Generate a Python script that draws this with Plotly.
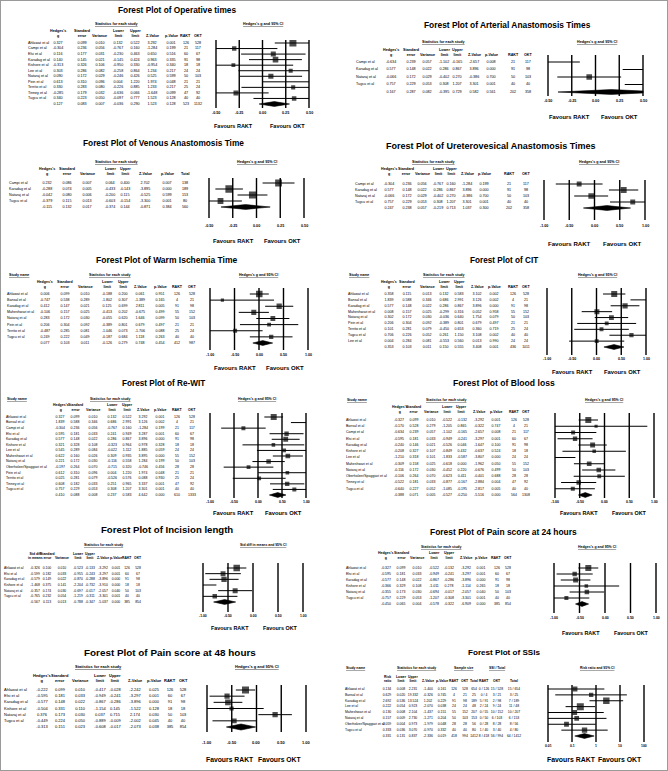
import math
import plotly.graph_objects as go

W, H = 668, 771
FONT = "Liberation Sans, Arial, sans-serif"

# ---------------- tick labels / headers ----------------
TICKS_HALF = [-0.5, -0.25, 0.0, 0.25, 0.5]
TICKS_HALF_LABELS = ["-0.50", "-0.25", "0.00", "0.25", "0.50"]
TICKS_ONE = [-1.0, -0.5, 0.0, 0.5, 1.0]
TICKS_ONE_LABELS = ["-1.00", "-0.50", "0.00", "0.50", "1.00"]
TICKS_LOG = [0.01, 0.1, 1, 10, 100]
TICKS_LOG_LABELS = ["0.01", "0.1", "1", "10", "100"]

HDR_HEDGES = ["Hedges's<br>g", "Standard<br>error", "Variance", "Lower<br>limit", "Upper<br>limit",
              "Z-Value", "p-Value", "RAKT", "OKT"]
HDR_TOTAL = ["Hedges's<br>g", "Standard<br>error", "Variance", "Lower<br>limit", "Upper<br>limit",
             "Z-Value", "p-Value", "Total"]
HDR_SMD = ["Std diff<br>in means", "Standard<br>error", "Variance", "Lower<br>limit", "Upper<br>limit",
           "Z-Value", "p-Value", "RAKT", "OKT"]
HDR_SSI = ["Risk<br>ratio", "Lower<br>limit", "Upper<br>limit", "Z-Value", "p-Value",
           "RAKT", "OKT", "Total", "RAKT", "OKT", "Total"]

# ---------------- DATA (last entry of value lists = pooled summary) ----------------
# 1 Operative times
OP_STUDIES = ["Ahlawat et al", "Campi et al", "Elsi et al", "Karadag et al", "Kishore et al", "Lee et al",
              "Nataraj et al", "Pein et al", "Territo et al", "Tinney et al", "Tugcu et al"]
OP_G = [0.327, -0.304, 0.116, 0.140, -0.313, 0.303, 0.090, 0.613, 0.330, -0.285, 0.340, 0.127]
OP_SE = [0.099, 0.236, 0.177, 0.145, 0.326, 0.286, 0.172, 0.310, 0.283, 0.179, 0.223, 0.083]
OP_VAR = [0.010, 0.056, 0.031, 0.021, 0.106, 0.082, 0.029, 0.096, 0.080, 0.032, 0.050, 0.007]
OP_LO = [0.132, -0.767, -0.230, -0.145, -0.950, -0.258, -0.246, 0.004, -0.226, -0.636, -0.097, -0.036]
OP_HI = [0.522, 0.160, 0.463, 0.424, 0.330, 0.864, 0.426, 1.220, 0.885, 0.066, 0.777, 0.290]
OP_Z = [3.292, -1.284, 0.650, 0.963, -0.954, 1.234, 0.525, 1.974, 1.233, -1.648, 1.523, 1.523]
OP_P = [0.001, 0.199, 0.516, 0.335, 0.340, 0.217, 0.599, 0.048, 0.217, 0.099, 0.128, 0.128]
OP_RAKT = [126, 21, 60, 91, 18, 24, 50, 21, 25, 47, 40, 523]
OP_OKT = [528, 117, 67, 98, 18, 24, 103, 21, 24, 92, 40, 1132]

# 2 Arterial anastomosis times
AR_STUDIES = ["Campi et al", "Karadag et al", "Nataraj et al", "Tugcu et al"]
AR_G = [-0.634, 0.577, -0.066, 0.757, 0.167]
AR_SE = [0.239, 0.148, 0.172, 0.229, 0.287]
AR_VAR = [0.057, 0.022, 0.029, 0.053, 0.082]
AR_LO = [-1.102, 0.286, -0.402, 0.308, -0.395]
AR_HI = [-0.165, 0.867, 0.270, 1.207, 0.729]
AR_Z = [-2.657, 3.896, -0.386, 3.301, 0.582]
AR_P = [0.008, 0.000, 0.700, 0.001, 0.561]
AR_RAKT = [21, 91, 50, 40, 202]
AR_OKT = [117, 98, 103, 40, 358]

# 3 Venous anastomosis time
VE_STUDIES = ["Campi et al", "Karadag et al", "Nataraj et al", "Tugcu et al"]
VE_G = [0.232, -0.288, -0.042, -0.379, -0.115]
VE_SE = [0.086, 0.074, 0.080, 0.115, 0.132]
VE_VAR = [0.007, 0.005, 0.006, 0.013, 0.017]
VE_LO = [0.064, -0.433, -0.200, -0.603, -0.374]
VE_HI = [0.400, -0.143, 0.115, -0.154, 0.144]
VE_Z = [2.702, -3.895, -0.525, -3.300, -0.871]
VE_P = [0.007, 0.000, 0.599, 0.001, 0.384]
VE_TOTAL = [138, 189, 153, 80, 560]

# 4 Ureterovesical anastomosis times
UR_STUDIES = ["Campi et al", "Karadag et al", "Nataraj et al", "Tugcu et al"]
UR_G = [-0.304, 0.577, -0.066, 0.757, 0.247]
UR_SE = [0.236, 0.148, 0.172, 0.229, 0.238]
UR_VAR = [0.056, 0.022, 0.029, 0.053, 0.057]
UR_LO = [-0.767, 0.286, -0.402, 0.308, -0.219]
UR_HI = [0.160, 0.867, 0.270, 1.207, 0.713]
UR_Z = [-1.284, 3.896, -0.386, 3.301, 1.037]
UR_P = [0.199, 0.000, 0.700, 0.001, 0.300]
UR_RAKT = [21, 91, 50, 40, 202]
UR_OKT = [117, 98, 103, 40, 358]

# 5 Warm ischemia time
WI_STUDIES = ["Ahlawat et al", "Bansal et al", "Karadag et al", "Maheshwari et al", "Nataraj et al",
              "Pein et al", "Territo et al", "Tugcu et al"]
WI_G = [0.006, -0.747, 0.412, -0.106, 0.283, 0.206, -0.487, 0.249, 0.077]
WI_SE = [0.099, 0.538, 0.147, 0.157, 0.172, 0.304, 0.285, 0.222, 0.103]
WI_VAR = [0.010, 0.289, 0.021, 0.025, 0.030, 0.092, 0.081, 0.049, 0.011]
WI_LO = [-0.188, -1.802, 0.125, -0.413, -0.055, -0.389, -1.046, -0.187, -0.126]
WI_HI = [0.200, 0.307, 0.699, 0.202, 0.620, 0.801, 0.073, 0.684, 0.279]
WI_Z = [0.061, -1.389, 2.811, -0.675, 1.646, 0.679, -1.706, 1.118, 0.748]
WI_P = [0.951, 0.165, 0.005, 0.499, 0.099, 0.497, 0.088, 0.263, 0.454]
WI_RAKT = [126, 4, 91, 55, 50, 21, 25, 40, 412]
WI_OKT = [528, 21, 98, 152, 103, 21, 24, 40, 987]

# 6 CIT
CT_STUDIES = ["Ahlawat et al", "Bansal et al", "Karadag et al", "Maheshwari et al", "Nataraj et al",
              "Pein et al", "Territo et al", "Tugcu et al", "Lee et al"]
CT_G = [0.358, 1.839, 0.577, 0.008, 0.302, 0.206, 0.101, 0.706, 0.004, 0.353]
CT_SE = [0.115, 0.588, 0.148, 0.157, 0.172, 0.304, 0.281, 0.226, 0.284, 0.103]
CT_VAR = [0.013, 0.346, 0.022, 0.025, 0.030, 0.092, 0.079, 0.052, 0.081, 0.011]
CT_LO = [0.132, 0.686, 0.286, -0.299, -0.036, -0.389, -0.450, 0.261, -0.553, 0.150]
CT_HI = [0.583, 2.991, 0.867, 0.316, 0.640, 0.801, 0.653, 1.150, 0.560, 0.555]
CT_Z = [3.102, 3.126, 3.896, 0.052, 1.754, 0.679, 0.360, 3.108, 0.013, 3.408]
CT_P = [0.002, 0.002, 0.000, 0.958, 0.079, 0.497, 0.719, 0.002, 0.990, 0.001]
CT_RAKT = [126, 4, 91, 55, 50, 21, 25, 40, 24, 436]
CT_OKT = [528, 21, 98, 152, 103, 21, 24, 40, 24, 1011]

# 7 Re-WIT
RW_STUDIES = ["Ahlawat et al", "Bansal et al", "Campi et al", "Elsi et al", "Karadag et al", "Kishore et al",
              "Lee et al", "Maheshwari et al", "Nataraj et al", "Oberholzer/Spaggiari et al", "Pein et al",
              "Territo et al", "Tinney et al", "Tugcu et al"]
RW_G = [0.327, 1.839, -0.304, 0.595, 0.577, 0.321, 0.545, 0.622, 0.221, -0.197, 0.612, 0.025, 0.608, 0.757, 0.410]
RW_SE = [0.099, 0.588, 0.236, 0.181, 0.148, 0.328, 0.289, 0.160, 0.172, 0.264, 0.310, 0.281, 0.182, 0.229, 0.088]
RW_VAR = [0.010, 0.346, 0.056, 0.033, 0.022, 0.108, 0.084, 0.026, 0.030, 0.070, 0.096, 0.079, 0.033, 0.053, 0.008]
RW_LO = [0.132, 0.686, -0.767, 0.241, 0.286, -0.323, -0.022, 0.309, -0.116, -0.715, 0.004, -0.526, 0.251, 0.308, 0.237]
RW_HI = [0.522, 2.991, 0.160, 0.949, 0.867, 0.964, 1.112, 0.935, 0.558, 0.320, 1.220, 0.576, 0.965, 1.207, 0.583]
RW_Z = [3.292, 3.126, -1.284, 3.287, 3.896, 0.978, 1.885, 3.895, 1.284, -0.746, 1.974, 0.088, 3.337, 3.301, 4.642]
RW_P = [0.001, 0.002, 0.199, 0.001, 0.000, 0.328, 0.059, 0.000, 0.199, 0.456, 0.048, 0.930, 0.001, 0.001, 0.000]
RW_RAKT = [126, 4, 21, 60, 91, 18, 24, 55, 50, 28, 21, 25, 47, 40, 610]
RW_OKT = [528, 21, 117, 67, 98, 18, 24, 152, 103, 28, 21, 24, 92, 40, 1333]

# 8 Blood loss
BL_STUDIES = ["Ahlawat et al", "Bansal et al", "Campi et al", "Elsi et al", "Karadag et al", "Kishore et al",
              "Lee et al", "Maheshwari et al", "Nataraj et al", "Oberholzer/Spaggiari et al", "Tinney et al",
              "Tugcu et al"]
BL_G = [-0.327, -0.170, -0.634, -0.595, -0.240, -0.208, -1.210, -0.309, -0.116, -0.106, -0.522, -0.640, -0.388]
BL_SE = [0.099, 0.528, 0.239, 0.181, 0.146, 0.327, 0.318, 0.158, 0.172, 0.264, 0.181, 0.227, 0.071]
BL_VAR = [0.010, 0.279, 0.057, 0.033, 0.021, 0.107, 0.101, 0.025, 0.030, 0.070, 0.033, 0.052, 0.005]
BL_LO = [-0.522, -1.205, -1.102, -0.949, -0.526, -0.849, -1.833, -0.618, -0.452, -0.623, -0.877, -1.085, -0.527]
BL_HI = [-0.132, 0.865, -0.165, -0.241, 0.046, 0.432, -0.587, 0.000, 0.220, 0.411, -0.167, -0.195, -0.250]
BL_Z = [-3.292, -0.322, -2.657, -3.297, -1.647, -0.637, -3.807, -1.962, -0.676, -0.401, -2.884, -2.817, -5.516]
BL_P = [0.001, 0.747, 0.008, 0.001, 0.100, 0.524, 0.000, 0.050, 0.499, 0.688, 0.004, 0.005, 0.000]
BL_RAKT = [126, 4, 21, 60, 91, 18, 24, 55, 50, 28, 47, 40, 564]
BL_OKT = [528, 21, 117, 67, 98, 18, 24, 152, 103, 28, 92, 40, 1308]

# 9 Incision length (std diff in means)
IN_STUDIES = ["Ahlawat et al", "Elsi et al", "Karadag et al", "Kishore et al", "Nataraj et al", "Tugcu et al"]
IN_D = [-0.326, -0.599, -0.579, -1.468, -0.357, -0.765, -0.567]
IN_SE = [0.100, 0.182, 0.149, 0.375, 0.174, 0.232, 0.113]
IN_VAR = [0.010, 0.033, 0.022, 0.141, 0.030, 0.054, 0.013]
IN_LO = [-0.523, -0.955, -0.870, -2.204, -0.697, -1.219, -0.788]
IN_HI = [-0.133, -0.243, -0.288, -0.732, -0.017, -0.311, -0.347]
IN_Z = [-3.292, -3.297, -3.896, -3.910, -2.057, -3.301, -5.037]
IN_P = [0.001, 0.001, 0.000, 0.000, 0.040, 0.001, 0.000]
IN_RAKT = [126, 60, 91, 18, 50, 40, 385]
IN_OKT = [528, 67, 98, 18, 103, 40, 854]

# 10 Pain score at 24 hours
P24_STUDIES = ["Ahlawat et al", "Elsi et al", "Karadag et al", "Kishore et al", "Nataraj et al", "Tugcu et al"]
P24_G = [-0.327, -0.595, -0.577, -0.366, -0.355, -0.757, -0.450]
P24_SE = [0.099, 0.181, 0.148, 0.329, 0.173, 0.229, 0.065]
P24_VAR = [0.010, 0.033, 0.022, 0.108, 0.030, 0.053, 0.004]
P24_LO = [-0.522, -0.949, -0.867, -1.011, -0.694, -1.207, -0.578]
P24_HI = [-0.132, -0.241, -0.286, 0.278, -0.017, -0.308, -0.322]
P24_Z = [-3.292, -3.297, -3.896, -1.114, -2.057, -3.301, -6.909]
P24_P = [0.001, 0.001, 0.000, 0.265, 0.040, 0.001, 0.000]
P24_RAKT = [126, 60, 91, 18, 50, 40, 385]
P24_OKT = [528, 67, 98, 18, 103, 40, 854]

# 11 Pain score at 48 hours
P48_STUDIES = ["Ahlawat et al", "Elsi et al", "Karadag et al", "Kishore et al", "Nataraj et al", "Tugcu et al"]
P48_G = [-0.222, -0.595, -0.577, -0.504, 0.376, -0.449, -0.313]
P48_SE = [0.099, 0.181, 0.148, 0.331, 0.173, 0.224, 0.151]
P48_VAR = [0.010, 0.033, 0.022, 0.110, 0.030, 0.050, 0.023]
P48_LO = [-0.417, -0.949, -0.867, -1.154, 0.037, -0.889, -0.608]
P48_HI = [-0.028, -0.241, -0.286, 0.145, 0.715, -0.009, -0.017]
P48_Z = [-2.242, -3.297, -3.896, -1.522, 2.174, -2.002, -2.073]
P48_P = [0.025, 0.001, 0.000, 0.128, 0.030, 0.045, 0.038]
P48_RAKT = [126, 60, 91, 18, 50, 40, 385]
P48_OKT = [528, 67, 98, 18, 103, 40, 854]

# 12 SSIs (risk ratio)
SS_STUDIES = ["Ahlawat et al", "Bansal et al", "Karadag et al", "Lee et al", "Maheshwari et al", "Nataraj et al",
              "Oberholzer/Spaggiari et al", "Tugcu et al"]
SS_RR = [0.134, 0.629, 2.692, 0.222, 0.130, 0.157, 0.059, 0.333, 0.331]
SS_LO = [0.008, 0.020, 0.536, 0.054, 0.008, 0.009, 0.004, 0.036, 0.131]
SS_HI = [2.231, 19.332, 13.524, 0.923, 2.104, 2.730, 0.973, 3.070, 0.837]
SS_Z = [-1.400, -0.326, 1.202, -2.070, -1.437, -1.271, -1.979, -0.970, -2.336]
SS_P = [0.161, 0.745, 0.229, 0.038, 0.151, 0.204, 0.048, 0.332, 0.019]
SS_RAKT_N = [126, 4, 91, 24, 55, 50, 28, 40, 418]
SS_OKT_N = [528, 21, 98, 24, 152, 103, 28, 40, 994]
SS_RAKT_EV = [0, 0, 5, 2, 0, 0, 0, 1, 8]
SS_OKT_EV = [15, 3, 2, 9, 10, 6, 8, 3, 56]


# ---------------- helpers ----------------
def f3(a):
    return [f"{v:.3f}" for v in a]


def fi(a):
    return [str(v) for v in a]


fig = go.Figure()
LAYOUT = {}
ANN = []
LAYOUT["xaxis13"] = dict(domain=[0, 1], range=[0, W], visible=False, anchor="y")


def X(x):
    return x / W


def Y(y):
    return 1 - y / H


def note(x, y, text, size, bold=False, xanchor="center", yanchor="middle", xref="paper", underline=False):
    t = text
    if underline:
        t = f"<u>{t}</u>"
    if bold:
        t = f"<b>{t}</b>"
    ANN.append(dict(x=x, y=y, xref=xref, yref="paper", text=t, showarrow=False,
                    xanchor=xanchor, yanchor=yanchor, borderpad=0,
                    font=dict(family=FONT, size=size, color="black")))


def add_panel(k, cfg, names, headers, columns, eff, lo, hi, weights, ticks, tlabels):
    sid = "" if k == 1 else str(k)
    xr, yr = "x" + sid, "y" + sid
    n = len(names)
    nrows = n + 1
    r0, rN = cfg["r0"], cfg["rN"]
    s = (rN - r0) / (nrows - 1)

    def row(py):
        return (py - r0) / s

    ytop, ybot = row(cfg["ltop"]), row(cfg["lbot"])
    islog = cfg.get("log", False)
    T = (lambda v: math.log10(v)) if islog else (lambda v: v)
    Ti = (lambda v: 10 ** v) if islog else (lambda v: v)
    xmin, xmax = ticks[0], ticks[-1]
    a, b = T(xmin), T(xmax)
    pad = 1.5
    unit = (b - a) / (cfg["px1"] - cfg["px0"])
    LAYOUT["xaxis" + sid] = dict(domain=[(cfg["px0"] - pad) / W, (cfg["px1"] + pad) / W],
                                 range=[a - pad * unit, b + pad * unit],
                                 type="log" if islog else "linear", visible=False, anchor=yr)
    LAYOUT["yaxis" + sid] = dict(domain=[1 - cfg["lbot"] / H, 1 - cfg["ltop"] / H],
                                 range=[ybot, ytop], visible=False, anchor=xr)

    # vertical reference lines
    vx, vy = [], []
    for t in ticks:
        vx += [t, t, None]
        vy += [ytop, ybot, None]
    fig.add_trace(go.Scatter(x=vx, y=vy, mode="lines", line=dict(color="black", width=1.4),
                             xaxis=xr, yaxis=yr, hoverinfo="skip", showlegend=False))
    # confidence intervals
    cx, cy = [], []
    for i in range(n):
        cx += [max(lo[i], xmin), min(hi[i], xmax), None]
        cy += [i, i, None]
    fig.add_trace(go.Scatter(x=cx, y=cy, mode="lines", line=dict(color="black", width=1.0),
                             xaxis=xr, yaxis=yr, hoverinfo="skip", showlegend=False))
    # squares
    wmax = max(weights)
    idx = [i for i in range(n) if xmin <= eff[i] <= xmax]
    sizes = [cfg["smin"] + (cfg["smax"] - cfg["smin"]) * math.sqrt(weights[i] / wmax) for i in idx]
    fig.add_trace(go.Scatter(x=[eff[i] for i in idx], y=idx, mode="markers",
                             marker=dict(symbol="square", color="black", size=sizes, line=dict(width=0)),
                             xaxis=xr, yaxis=yr, hoverinfo="skip", showlegend=False))
    # pooled diamond (clipped to the axis range)
    L, G, R = T(lo[n]), T(eff[n]), T(hi[n])
    hh = cfg.get("dh", 2.4) / s
    yc = n
    pts = []
    if L < a:
        ha = hh * (a - L) / (G - L)
        pts += [(a, yc + ha), (a, yc - ha)]
    else:
        pts += [(L, yc)]
    pts += [(G, yc - hh)]
    if R > b:
        hb = hh * (R - b) / (R - G)
        pts += [(b, yc - hb), (b, yc + hb)]
    else:
        pts += [(R, yc)]
    pts += [(G, yc + hh)]
    pts += [pts[0]]
    fig.add_trace(go.Scatter(x=[Ti(p[0]) for p in pts], y=[p[1] for p in pts], mode="lines",
                             fill="toself", fillcolor="black", line=dict(color="black", width=0.6),
                             xaxis=xr, yaxis=yr, hoverinfo="skip", showlegend=False))

    ts = cfg["ts"]
    # study names
    fig.add_trace(go.Scatter(x=[cfg["name_x"]] * n, y=list(range(n)), text=names, mode="text",
                             textposition="middle right",
                             textfont=dict(family=FONT, size=ts, color="black"),
                             xaxis="x13", yaxis=yr, cliponaxis=False, hoverinfo="skip", showlegend=False))
    # table columns
    for j, col in enumerate(columns):
        fig.add_trace(go.Scatter(x=[cfg["col_x"][j]] * nrows, y=list(range(nrows)), text=col, mode="text",
                                 textposition="middle center",
                                 textfont=dict(family=FONT, size=ts, color="black"),
                                 xaxis="x13", yaxis=yr, cliponaxis=False, hoverinfo="skip",
                                 showlegend=False))
        note(X(cfg["col_x"][j]), Y(cfg["hdr_b"]), headers[j], ts, bold=True, yanchor="bottom")

    # headers
    tx, ty, tsz = cfg["title"][1:]
    note(X(tx), Y(ty), cfg["title"][0], tsz, bold=True)
    if cfg.get("name_hdr"):
        note(X(cfg["name_hdr"][0]), Y(cfg["name_hdr"][1]), "Study name", ts, bold=True,
             underline=True, xanchor="left")
    for gtext, gx, gy in cfg["groups"]:
        note(X(gx), Y(gy), gtext, ts, bold=True, underline=True)
    ct, cxh, cyh = cfg["ci"]
    note(X(cxh), Y(cyh), ct, ts, bold=True, underline=True)
    # tick labels
    for t, lab in zip(ticks, tlabels):
        note(T(t), Y(cfg["tick_y"]), lab, cfg.get("tks", ts), bold=True, xref=xr)
    # favours
    note(X(cfg["fav_x"][0]), Y(cfg["fav_y"]), "Favours RAKT", cfg["fav_s"], bold=True)
    note(X(cfg["fav_x"][1]), Y(cfg["fav_y"]), "Favours OKT", cfg["fav_s"], bold=True)


def inv(v):
    return [1.0 / x for x in v]


# ---------------- panels ----------------
add_panel(1, dict(title=("Forest Plot of Operative times", 177, 10, 8.3),
                  groups=[("Statistics for each study", 117, 24)], ci=("Hedges's g and 95% CI", 263, 24),
                  col_x=[58, 82, 100, 118, 135, 152, 171, 186, 198], hdr_b=39, name_x=28,
                  r0=43, rN=104, px0=216, px1=309, ltop=40, lbot=108,
                  tick_y=113, fav_y=126, fav_x=(233, 287), fav_s=5.5, ts=3.7, smin=2.5, smax=7),
          OP_STUDIES, HDR_HEDGES,
          [f3(OP_G), f3(OP_SE), f3(OP_VAR), f3(OP_LO), f3(OP_HI), f3(OP_Z), f3(OP_P), fi(OP_RAKT), fi(OP_OKT)],
          OP_G, OP_LO, OP_HI, inv(OP_VAR[:-1]), TICKS_HALF, TICKS_HALF_LABELS)

add_panel(2, dict(title=("Forest Plot of Arterial Anastomosis Times", 507, 25, 8.4),
                  groups=[("Statistics for each study", 444, 42)], ci=("Hedges's g and 95% CI", 597, 42),
                  col_x=[391, 411, 427, 444, 457, 474, 491, 513, 528], hdr_b=58, name_x=356,
                  r0=62, rN=92, px0=548, px1=643, ltop=55, lbot=96,
                  tick_y=101, fav_y=117, fav_x=(569, 619), fav_s=5.8, ts=3.7, smin=3, smax=6),
          AR_STUDIES, HDR_HEDGES,
          [f3(AR_G), f3(AR_SE), f3(AR_VAR), f3(AR_LO), f3(AR_HI), f3(AR_Z), f3(AR_P), fi(AR_RAKT), fi(AR_OKT)],
          AR_G, AR_LO, AR_HI, inv(AR_VAR[:-1]), TICKS_HALF, TICKS_HALF_LABELS)

add_panel(3, dict(title=("Forest Plot of Venous Anastomosis Time", 163, 143, 8.3),
                  groups=[("Statistics for each study", 117, 162)], ci=("Hedges's g and 95% CI", 257, 162),
                  col_x=[47, 67, 87, 110, 125, 145, 167, 185], hdr_b=177, name_x=9,
                  r0=183, rN=207, px0=209, px1=304, ltop=178, lbot=218,
                  tick_y=226, fav_y=241, fav_x=(233, 282), fav_s=5.8, ts=3.7, smin=3, smax=7.5),
          VE_STUDIES, HDR_TOTAL,
          [f3(VE_G), f3(VE_SE), f3(VE_VAR), f3(VE_LO), f3(VE_HI), f3(VE_Z), f3(VE_P), fi(VE_TOTAL)],
          VE_G, VE_LO, VE_HI, inv(VE_VAR[:-1]), TICKS_HALF, TICKS_HALF_LABELS)

add_panel(4, dict(title=("Forest Plot of Ureterovesical Anastomosis Times", 491, 146, 9.0),
                  groups=[("Statistics for each study", 434, 162)], ci=("Hedges's g and 95% CI", 599, 162),
                  col_x=[389, 407, 422, 438, 451, 467, 484, 509, 526], hdr_b=177, name_x=355,
                  r0=184, rN=208, px0=544, px1=645, ltop=180, lbot=220,
                  tick_y=226, fav_y=243, fav_x=(569, 622), fav_s=6.1, ts=3.7, smin=3, smax=6),
          UR_STUDIES, HDR_HEDGES,
          [f3(UR_G), f3(UR_SE), f3(UR_VAR), f3(UR_LO), f3(UR_HI), f3(UR_Z), f3(UR_P), fi(UR_RAKT), fi(UR_OKT)],
          UR_G, UR_LO, UR_HI, inv(UR_VAR[:-1]), TICKS_ONE, TICKS_ONE_LABELS)

add_panel(5, dict(title=("Forest Plot of Warm Ischemia Time", 167, 260, 8.5), name_hdr=(8, 275),
                  groups=[("Statistics for each study", 110, 275)], ci=("Hedges's g and 95% CI", 258, 275),
                  col_x=[45, 65, 85, 107, 123, 140, 160, 177, 192], hdr_b=290, name_x=7,
                  r0=294, rN=343, px0=210, px1=308, ltop=288, lbot=350,
                  tick_y=355, fav_y=368, fav_x=(235, 285), fav_s=6.0, ts=3.6, smin=2.5, smax=6.5),
          WI_STUDIES, HDR_HEDGES,
          [f3(WI_G), f3(WI_SE), f3(WI_VAR), f3(WI_LO), f3(WI_HI), f3(WI_Z), f3(WI_P), fi(WI_RAKT), fi(WI_OKT)],
          WI_G, WI_LO, WI_HI, inv(WI_VAR[:-1]), TICKS_ONE, TICKS_ONE_LABELS)

add_panel(6, dict(title=("Forest Plot of CIT", 504, 260, 8.2), name_hdr=(348, 275),
                  groups=[("Statistics for each study", 444, 275)], ci=("Hedges's g and 95% CI", 597, 275),
                  col_x=[389, 407, 427, 444, 459, 477, 494, 513, 526], hdr_b=290, name_x=348,
                  r0=294, rN=347, px0=547, px1=646, ltop=288, lbot=355,
                  tick_y=359, fav_y=372, fav_x=(572, 622), fav_s=5.8, ts=3.6, smin=2.5, smax=6),
          CT_STUDIES, HDR_HEDGES,
          [f3(CT_G), f3(CT_SE), f3(CT_VAR), f3(CT_LO), f3(CT_HI), f3(CT_Z), f3(CT_P), fi(CT_RAKT), fi(CT_OKT)],
          CT_G, CT_LO, CT_HI, inv(CT_VAR[:-1]), TICKS_ONE, TICKS_ONE_LABELS)

add_panel(7, dict(title=("Forest Plot of Re-WIT", 163, 383, 8.2), name_hdr=(6, 399),
                  groups=[("Statistics for each study", 110, 399)], ci=("Hedges's g and 95% CI", 257, 399),
                  col_x=[60, 75, 93, 112, 127, 143, 160, 177, 192], hdr_b=413, name_x=6,
                  r0=417, rN=495, px0=210, px1=306, ltop=413, lbot=498,
                  tick_y=502, fav_y=513, fav_x=(233, 283), fav_s=5.8, ts=3.5, smin=2.5, smax=6),
          RW_STUDIES, HDR_HEDGES,
          [f3(RW_G), f3(RW_SE), f3(RW_VAR), f3(RW_LO), f3(RW_HI), f3(RW_Z), f3(RW_P), fi(RW_RAKT), fi(RW_OKT)],
          RW_G, RW_LO, RW_HI, inv(RW_VAR[:-1]), TICKS_ONE, TICKS_ONE_LABELS)

add_panel(8, dict(title=("Forest Plot of Blood loss", 504, 383, 8.6), name_hdr=(346, 400),
                  groups=[("Statistics for each study", 446, 400)], ci=("Hedges's g and 95% CI", 604, 400),
                  col_x=[399, 414, 431, 447, 462, 479, 496, 514, 526], hdr_b=415, name_x=346,
                  r0=420, rN=495, px0=555, px1=654, ltop=413, lbot=498,
                  tick_y=502, fav_y=513, fav_x=(579, 629), fav_s=5.4, ts=3.5, smin=2.5, smax=6),
          BL_STUDIES, HDR_HEDGES,
          [f3(BL_G), f3(BL_SE), f3(BL_VAR), f3(BL_LO), f3(BL_HI), f3(BL_Z), f3(BL_P), fi(BL_RAKT), fi(BL_OKT)],
          BL_G, BL_LO, BL_HI, inv(BL_VAR[:-1]), TICKS_ONE, TICKS_ONE_LABELS)

add_panel(9, dict(title=("Forest Plot of Incision length", 167, 529, 9.6),
                  groups=[("Statistics for each study", 103, 545)], ci=("Std diff in means and 95% CI", 263, 545),
                  col_x=[35, 47, 62, 78, 90, 103, 116, 127, 138], hdr_b=561, name_x=4,
                  r0=568, rN=602, px0=203, px1=303, ltop=563, lbot=612,
                  tick_y=616, fav_y=628, fav_x=(230, 280), fav_s=5.4, ts=3.4, smin=3, smax=6.5),
          IN_STUDIES, HDR_SMD,
          [f3(IN_D), f3(IN_SE), f3(IN_VAR), f3(IN_LO), f3(IN_HI), f3(IN_Z), f3(IN_P), fi(IN_RAKT), fi(IN_OKT)],
          IN_D, IN_LO, IN_HI, inv(IN_VAR[:-1]), TICKS_ONE, TICKS_ONE_LABELS)

add_panel(10, dict(title=("Forest Plot of Pain score at 24 hours", 504, 532, 8.45),
                   groups=[("Statistics for each study", 441, 547)], ci=("Hedges's g and 95% CI", 597, 547),
                   col_x=[386, 401, 417, 434, 449, 466, 481, 497, 508], hdr_b=561, name_x=346,
                   r0=568, rN=604, px0=554, px1=656, ltop=563, lbot=613,
                   tick_y=618, fav_y=633, fav_x=(581, 631), fav_s=5.4, ts=3.5, smin=2.5, smax=6),
          P24_STUDIES, HDR_HEDGES,
          [f3(P24_G), f3(P24_SE), f3(P24_VAR), f3(P24_LO), f3(P24_HI), f3(P24_Z), f3(P24_P), fi(P24_RAKT),
           fi(P24_OKT)],
          P24_G, P24_LO, P24_HI, inv(P24_VAR[:-1]), TICKS_ONE, TICKS_ONE_LABELS)

add_panel(11, dict(title=("Forest Plot of Pain score at 48 hours", 170, 652, 9.9),
                   groups=[("Statistics for each study", 98, 666)], ci=("Hedges's g and 95% CI", 257, 666),
                   col_x=[42, 60, 80, 100, 115, 135, 154, 170, 183], hdr_b=684, name_x=4,
                   r0=690, rN=727, px0=207, px1=306, ltop=685, lbot=732,
                   tick_y=742, fav_y=759, fav_x=(230, 280), fav_s=6.8, ts=4.0, smin=3, smax=7, dh=3),
          P48_STUDIES, HDR_HEDGES,
          [f3(P48_G), f3(P48_SE), f3(P48_VAR), f3(P48_LO), f3(P48_HI), f3(P48_Z), f3(P48_P), fi(P48_RAKT),
           fi(P48_OKT)],
          P48_G, P48_LO, P48_HI, inv(P48_VAR[:-1]), TICKS_ONE, TICKS_ONE_LABELS)

SS_TOTAL_N = [a + b for a, b in zip(SS_RAKT_N, SS_OKT_N)]
SS_R_TXT = [f"{e} / {m}" for e, m in zip(SS_RAKT_EV, SS_RAKT_N)]
SS_O_TXT = [f"{e} / {m}" for e, m in zip(SS_OKT_EV, SS_OKT_N)]
SS_T_TXT = [f"{e1 + e2} / {m}" for e1, e2, m in zip(SS_RAKT_EV, SS_OKT_EV, SS_TOTAL_N)]
SS_W = [1.0 / (((math.log(h) - math.log(l)) / 3.92) ** 2) for l, h in zip(SS_LO[:-1], SS_HI[:-1])]

add_panel(12, dict(title=("Forest Plot of SSIs", 504, 652, 8.1), name_hdr=(345, 668),
                   groups=[("Statistics for each study", 416, 668), ("Sample size", 464, 668),
                           ("SSI / Total", 497, 668)],
                   ci=("Risk ratio and 95% CI", 597, 668),
                   col_x=[387, 401, 413, 428, 442, 454, 465, 474, 484, 497, 514], hdr_b=684, name_x=345,
                   r0=689, rN=736, px0=548, px1=644, ltop=685, lbot=742, log=True,
                   tick_y=746, fav_y=759, fav_x=(571, 620), fav_s=6.9, ts=3.4, smin=2.5, smax=7),
          SS_STUDIES, HDR_SSI,
          [f3(SS_RR), f3(SS_LO), f3(SS_HI), f3(SS_Z), f3(SS_P), fi(SS_RAKT_N), fi(SS_OKT_N), fi(SS_TOTAL_N),
           SS_R_TXT, SS_O_TXT, SS_T_TXT],
          SS_RR, SS_LO, SS_HI, SS_W, TICKS_LOG, TICKS_LOG_LABELS)

fig.update_layout(width=W, height=H, margin=dict(l=0, r=0, t=0, b=0), autosize=False,
                  paper_bgcolor="white", plot_bgcolor="rgba(0,0,0,0)", showlegend=False,
                  annotations=ANN,
                  shapes=[dict(type="rect", xref="paper", yref="paper", x0=0, y0=0, x1=1, y1=1,
                               line=dict(color="#9a9a9a", width=2))],
                  **LAYOUT)

fig.write_html("out.html", config={"displayModeBar": False},
               post_script="document.body.style.margin='0';")
